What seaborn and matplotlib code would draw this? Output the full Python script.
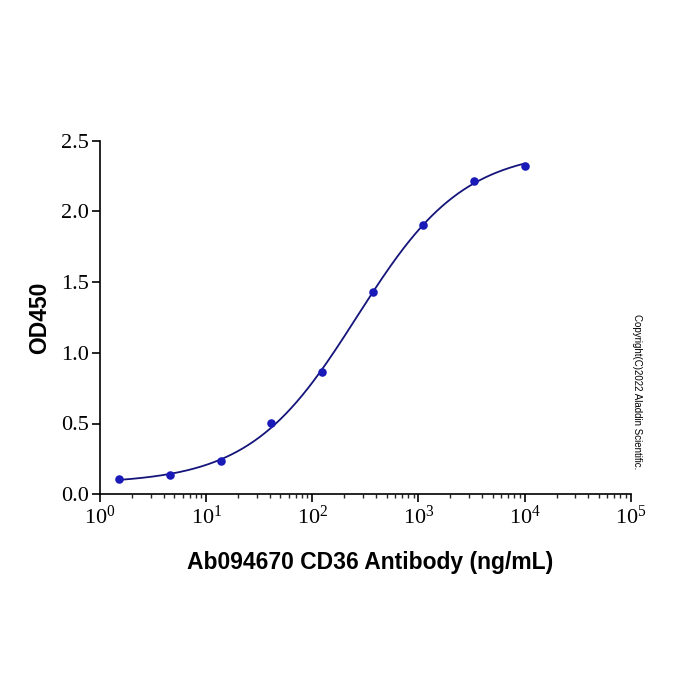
import numpy as np
import pandas as pd
import matplotlib
matplotlib.use('Agg')
import matplotlib.pyplot as plt
import matplotlib.ticker as mticker
import seaborn as sns

# data (3-fold dilution series)
conc = [1.52, 4.57, 13.7, 41.2, 123.5, 370.4, 1111.1, 3333.3, 10000.0]
od450 = [0.106, 0.135, 0.234, 0.503, 0.864, 1.43, 1.905, 2.217, 2.323]

x_label = 'Ab094670 CD36 Antibody (ng/mL)'
y_label = 'OD450'
copyright_text = 'Copyright(C)2022 Aladdin Scientific.'

sns.set_style('ticks')
plt.rcParams['font.family'] = ['Liberation Serif', 'DejaVu Serif']
plt.rcParams['mathtext.fontset'] = 'custom'
plt.rcParams['mathtext.rm'] = 'Liberation Serif'


def fit_4pl(x, y):
    """4PL fit: grid over ec50/hill, linear least squares for bottom/top"""
    x = np.asarray(x)
    y = np.asarray(y)
    best = None
    for ec50 in np.logspace(1, 4, 400):
        for hill in np.linspace(0.5, 2.0, 151):
            g = 1.0 / (1.0 + (ec50 / x) ** hill)
            M = np.column_stack([np.ones_like(g), g])
            coef, *_ = np.linalg.lstsq(M, y, rcond=None)
            err = np.sum((M @ coef - y) ** 2)
            if best is None or err < best[0]:
                best = (err, coef[0], coef[0] + coef[1], ec50, hill)
    return best[1:]


bottom, top, ec50, hill = fit_4pl(conc, od450)
xs = np.logspace(np.log10(conc[0]), np.log10(conc[-1]), 300)
ys = bottom + (top - bottom) / (1.0 + (ec50 / xs) ** hill)
df_pts = pd.DataFrame({'conc': conc, 'od': od450})
df_fit = pd.DataFrame({'conc': xs, 'od': ys})

fig = plt.figure(figsize=(7, 7), dpi=100)
ax = fig.add_axes([0.143, 0.294, 0.758, 0.505])

sns.lineplot(data=df_fit, x='conc', y='od', ax=ax, color='#14147a', linewidth=1.3)
sns.scatterplot(data=df_pts, x='conc', y='od', ax=ax, color='#1a1ab8',
                s=38, edgecolor='#1a1ab8', linewidth=0, zorder=3)

ax.set_xscale('log')
ax.set_xlim(1, 1e5)
ax.set_ylim(0, 2.5)
ax.set_yticks([0, 0.5, 1.0, 1.5, 2.0, 2.5])
ax.yaxis.set_major_formatter(mticker.FormatStrFormatter('%.1f'))
ax.xaxis.set_major_locator(mticker.LogLocator(base=10, numticks=10))
ax.xaxis.set_minor_locator(mticker.LogLocator(base=10, subs=np.arange(2, 10), numticks=20))
ax.xaxis.set_minor_formatter(mticker.NullFormatter())

for side in ['top', 'right']:
    ax.spines[side].set_visible(False)
for side in ['left', 'bottom']:
    ax.spines[side].set_linewidth(1.2)
    ax.spines[side].set_color('black')

ax.tick_params(axis='both', which='major', direction='out', length=6, width=1.2,
               labelsize=16, colors='black', pad=2)
ax.tick_params(axis='x', which='minor', direction='out', length=3, width=1.0)

ax.set_xlabel(x_label, fontsize=16.5, fontweight='bold', family='Liberation Sans',
              color='black')
ax.xaxis.set_label_coords(0.508, -0.162)
ax.set_ylabel(y_label, fontsize=16.5, fontweight='bold', family='Liberation Sans',
              color='black', labelpad=7)

fig.text(0.91, 0.44, copyright_text, rotation=-90, fontsize=7,
         family='Liberation Sans', ha='center', va='center', color='black')

fig.savefig('out.png', dpi=100)
